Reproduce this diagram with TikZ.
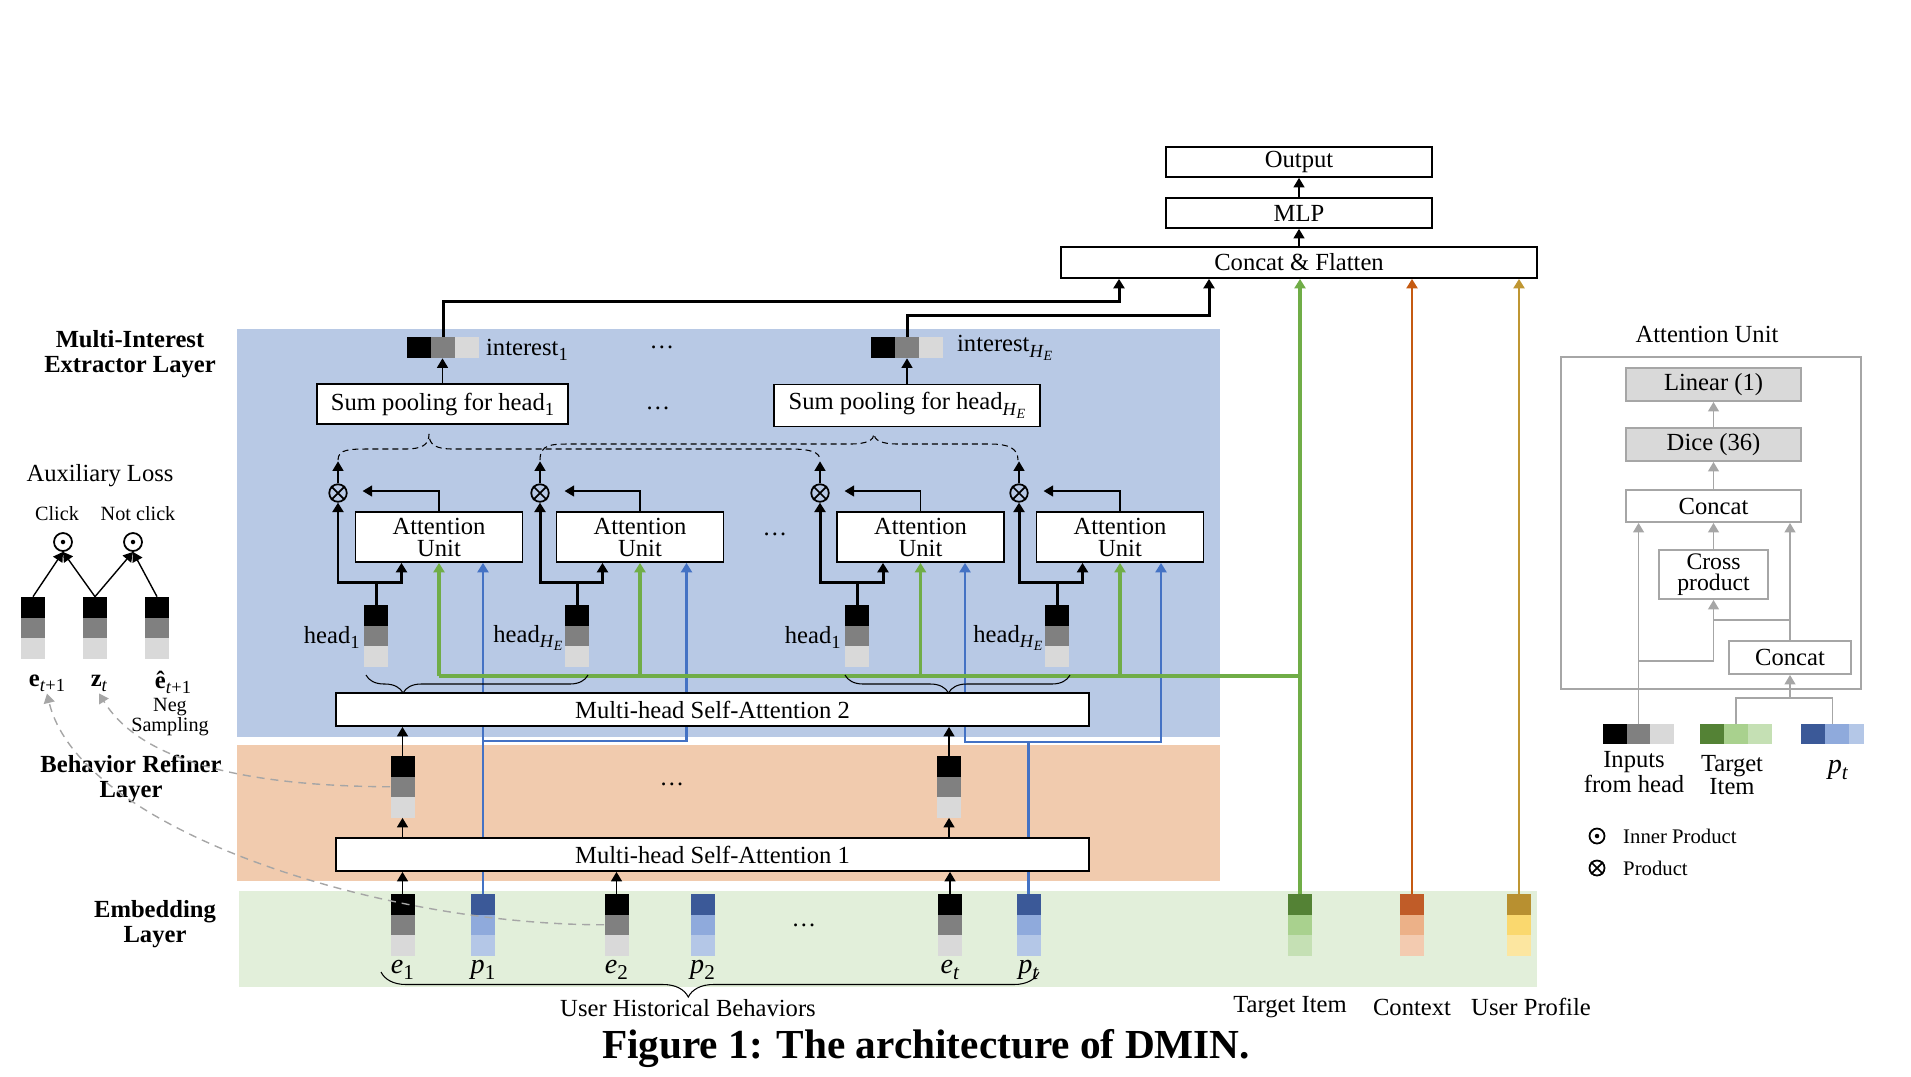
\documentclass[tikz,border=0pt]{standalone}
\usepackage{fontspec}
\setmainfont{Liberation Serif}
\usetikzlibrary{arrows.meta,decorations.pathreplacing,calc}

\definecolor{bluebg}{RGB}{184,201,229}
\definecolor{orangebg}{RGB}{241,203,174}
\definecolor{greenbg}{RGB}{226,239,218}
\definecolor{g2}{RGB}{128,128,128}
\definecolor{g3}{RGB}{217,217,217}
\definecolor{b1}{RGB}{59,89,152}
\definecolor{b2}{RGB}{143,170,220}
\definecolor{b3}{RGB}{180,199,231}
\definecolor{tg1}{RGB}{84,130,53}
\definecolor{tg2}{RGB}{169,209,142}
\definecolor{tg3}{RGB}{197,224,180}
\definecolor{cx1}{RGB}{192,92,40}
\definecolor{cx2}{RGB}{236,177,136}
\definecolor{cx3}{RGB}{243,203,176}
\definecolor{up1}{RGB}{184,144,48}
\definecolor{up2}{RGB}{250,216,110}
\definecolor{up3}{RGB}{252,230,160}
\definecolor{lgreen}{RGB}{112,173,71}
\definecolor{lblue}{RGB}{68,114,196}
\definecolor{lorange}{RGB}{197,90,17}
\definecolor{lgold}{RGB}{191,150,50}
\definecolor{pgray}{RGB}{166,166,166}
\definecolor{pfill}{RGB}{217,217,217}

\newcommand\fsz[2]{\fontsize{#1}{#2}\selectfont}
% subscripts set as text so that they scale with the label
\newcommand\sbs[1]{\raisebox{-0.45ex}{\fsz{10.5}{11}#1}}
\newcommand\bsbs[1]{\raisebox{-0.45ex}{\fsz{12}{12}#1}}
\newcommand\HE{\textit{H}\raisebox{-0.4ex}{\fsz{8}{8}\textit{E}}}

% vertical three-cell embedding: name, x centre, y top, colours
\newcommand\vvec[6]{%
  \fill[#4] (#2-12,#3) rectangle (#2+12,#3+20.5);
  \fill[#5] (#2-12,#3+20.5) rectangle (#2+12,#3+41);
  \fill[#6] (#2-12,#3+41) rectangle (#2+12,#3+61.5);
  \node[vecbox] (#1) at (#2,#3+30.75) {};}
% horizontal three-cell embedding: name, x left, y centre, cell width, height, colours
\newcommand\hvec[8]{%
  \fill[#6] (#2,#3-#5/2) rectangle (#2+#4,#3+#5/2);
  \fill[#7] (#2+#4,#3-#5/2) rectangle (#2+2*#4,#3+#5/2);
  \fill[#8] (#2+2*#4,#3-#5/2) rectangle (#2+3*#4,#3+#5/2);
  \node[inner sep=0pt, minimum width=3*#4*0.2mm, minimum height=#5*0.2mm] (#1) at (#2+1.5*#4,#3) {};}
% product operators
\newcommand\otimesnode[3]{%
  \node[opx, minimum size=#3] (#1) at (#2) {};
  \draw[line width=1pt] (#1.north east) -- (#1.south west) (#1.north west) -- (#1.south east);}
\newcommand\odotnode[3]{%
  \node[opx, minimum size=#3] (#1) at (#2) {};
  \fill (#1.center) circle (0.45mm);}

\begin{document}
\begin{tikzpicture}[x=0.2mm, y=-0.2mm,
  >={Triangle[width=2.2mm,length=1.9mm]},
  box/.style={draw, fill=white, line width=1pt, inner sep=0pt, align=center, font=\fsz{14}{12.5}},
  wh/.style 2 args={minimum width=#1*0.2mm, minimum height=#2*0.2mm},
  gbox/.style={box, draw=pgray, line width=1.1pt},
  vecbox/.style={inner sep=0pt, minimum width=4.8mm, minimum height=12.3mm},
  arr/.style={->, line width=0.8pt},
  thk/.style={->, line width=1.7pt},
  garr/.style={->, draw=pgray, line width=0.8pt},
  gline/.style={draw=pgray, line width=0.8pt},
  gl/.style={draw=lgreen, line width=1.8pt},
  bl/.style={draw=lblue, line width=1.5pt},
  ol/.style={draw=lorange, line width=1.5pt},
  ul/.style={draw=lgold, line width=1.5pt},
  lab/.style={font=\fsz{14}{16}, inner sep=1pt},
  mlab/.style={font=\fsz{16}{17}, inner sep=1pt},
  blab/.style={font=\bfseries\fsz{14}{14.2}, align=center},
  opx/.style={circle, draw, line width=1pt, inner sep=0pt},
  dbrace/.style={dashed, dash pattern=on 1.2mm off 0.8mm, line width=0.6pt},
  gdash/.style={->, draw=pgray, line width=0.8pt, dash pattern=on 1.6mm off 1.2mm},
  hbrace/.style={decorate, line width=0.6pt}]
\useasboundingbox (0,0) rectangle (1911,1076);

% layer backgrounds
\fill[bluebg] (237,329) rectangle (1220,737);
\fill[orangebg] (237,745) rectangle (1220,881);
\fill[greenbg] (239,891) rectangle (1537,987);

% embedding layer
\vvec{e1}{402.5}{894}{black}{g2}{g3}
\vvec{p1}{483}{894}{b1}{b2}{b3}
\vvec{e2}{616.5}{894}{black}{g2}{g3}
\vvec{p2}{702.5}{894}{b1}{b2}{b3}
\vvec{et}{950}{894}{black}{g2}{g3}
\vvec{pt}{1028.5}{894}{b1}{b2}{b3}
\vvec{ti}{1300}{894}{tg1}{tg2}{tg3}
\vvec{ctx}{1412}{894}{cx1}{cx2}{cx3}
\vvec{up}{1519}{894}{up1}{up2}{up3}
\node[mlab] at (402.5,970) {\textit{e}\bsbs{1}};
\node[mlab] at (483,970) {\textit{p}\bsbs{1}};
\node[mlab] at (616.5,970) {\textit{e}\bsbs{2}};
\node[mlab] at (702.5,970) {\textit{p}\bsbs{2}};
\node[mlab] at (950,970) {\textit{e}\bsbs{\textit{t}}};
\node[mlab] at (1028.5,970) {\textit{p}\bsbs{\textit{t}}};
\node[lab] at (804,925) {\dots};

% behaviour refiner layer
\vvec{r1}{402.5}{756}{black}{g2}{g3}
\vvec{r2}{949}{756}{black}{g2}{g3}
\node[lab] at (672,784) {\dots};

% heads
\vvec{h1}{376}{605}{black}{g2}{g3}
\vvec{h2}{577}{605}{black}{g2}{g3}
\vvec{h3}{857}{605}{black}{g2}{g3}
\vvec{h4}{1057}{605}{black}{g2}{g3}
\node[lab, anchor=east] at ($(h1.west)+(-2,2)$) {head\sbs{1}};
\node[lab, anchor=east] at ($(h2.west)+(0,2)$) {head\sbs{\HE}};
\node[lab, anchor=east] at ($(h3.west)+(-2,2)$) {head\sbs{1}};
\node[lab, anchor=east] at ($(h4.west)+(0,2)$) {head\sbs{\HE}};

% attention units and products
\foreach \n/\x in {au1/439, au2/640, au3/920.5, au4/1120}
  \node[box, wh={167}{50}] (\n) at (\x,537) {Attention\\Unit};
\otimesnode{m1}{338,493}{3.5mm}
\otimesnode{m2}{540,493}{3.5mm}
\otimesnode{m3}{820,493}{3.5mm}
\otimesnode{m4}{1019,493}{3.5mm}
\node[lab] at (775,534) {\dots};

% sum pooling and interests
\node[box, wh={251}{40}] (sp1) at (442.5,404) {Sum pooling for head\sbs{1}};
\node[box, wh={266}{42}] (sp2) at (907,405.5) {Sum pooling for head\sbs{\HE}};
\node[lab] at (658,408) {\dots};
\hvec{in1}{407}{347.5}{24}{21}{black}{g2}{g3}
\hvec{in2}{871}{347.5}{24}{21}{black}{g2}{g3}
\node[lab, anchor=west] at (484,350) {interest\sbs{1}};
\node[lab, anchor=west] at (955,348) {interest\sbs{\HE}};
\node[lab] at (662,347) {\dots};

% prediction tower
\node[box, wh={266}{30}] (out) at (1299,162) {Output};
\node[box, wh={266}{30}] (mlp) at (1299,213) {MLP};
\node[box, wh={476}{31}] (cf) at (1299,262.5) {Concat \& Flatten};
\draw[arr] (cf.north) -- (mlp.south);
\draw[arr] (mlp.north) -- (out.south);

% position embeddings feeding the attention units
\coordinate (bb1) at (0,741);
\coordinate (bb2) at (0,742);
\draw[bl, ->] (p1.north) -- (p1.north |- au1.south);
\draw[bl, ->] (p1.north |- bb1) -| ($(au2.south)+(46.5,0)$);
\draw[bl] (pt.north) -- (pt.north |- bb2);
\draw[bl, ->] (pt.north |- bb2) -| ($(au3.south)+(44.5,0)$);
\draw[bl, ->] (pt.north |- bb2) -| ($(au4.south)+(41,0)$);

% target item
\coordinate (gbus) at (0,676);
\draw[gl, ->] (ti.north) -- (ti.north |- cf.south);
\draw[gl] (au1.south |- gbus) -- (ti.north |- gbus);
\foreach \i in {1,...,4} \draw[gl, ->] (au\i.south |- gbus) -- (au\i.south);

% context and user profile
\draw[ol, ->] (ctx.north) -- (ctx.north |- cf.south);
\draw[ul, ->] (up.north) -- (up.north |- cf.south);

% self-attention blocks
\node[box, wh={753}{33}] (mh2) at (712.5,709.5) {Multi-head Self-Attention 2};
\node[box, wh={753}{33}] (mh1) at (712.5,854.5) {Multi-head Self-Attention 1};
\draw[arr] (e1.north) -- (e1.north |- mh1.south);
\draw[arr] (e2.north) -- (e2.north |- mh1.south);
\draw[arr] (et.north) -- (et.north |- mh1.south);
\draw[arr] (r1.south |- mh1.north) -- (r1.south);
\draw[arr] (r2.south |- mh1.north) -- (r2.south);
\draw[arr] (r1.north) -- (r1.north |- mh2.south);
\draw[arr] (r2.north) -- (r2.north |- mh2.south);
\draw[hbrace, decoration={brace, mirror, amplitude=3.6mm, aspect=0.167}] (366,675) -- (588,675);
\draw[hbrace, decoration={brace, mirror, amplitude=3.6mm, aspect=0.46}] (845,675) -- (1070,675);

% heads into products and attention units
\foreach \i in {1,...,4} {
  \coordinate (s\i) at ($(h\i.north)+(0,-22)$);
  \draw[line width=1.7pt] (h\i.north) -- (s\i);
  \draw[thk] (s\i) -| (m\i.south);
  \draw[thk] (s\i) -| ($(au\i.south)+(-37.5,0)$);
  \draw[arr] (au\i.north) |- ($(m\i.east)+(15,-2)$);
  \draw[arr] (m\i.north) -- ++(0,-22);
}

% grouping into sum pooling
\draw[dbrace] (338,460) .. controls (338,449) and (350,449) .. (370,449) -- (405,449)
  .. controls (422,449) and (429,445) .. (429,434)
  .. controls (429,445) and (436,449) .. (453,449) -- (790,449)
  .. controls (810,449) and (820,452) .. (820,460);
\draw[dbrace] (540,460) .. controls (540,444) and (552,444) .. (570,444) -- (850,444)
  .. controls (867,444) and (874,440) .. (874,434)
  .. controls (874,440) and (881,444) .. (898,444) -- (990,444)
  .. controls (1008,444) and (1018,448) .. (1018,460);

\draw[arr] (sp1.north) -- (sp1.north |- in1.south);
\draw[arr] (sp2.north) -- (sp2.north |- in2.south);
\draw[thk] (in1.north) -- ++(0,-35) -| ($(cf.south)+(-180,0)$);
\draw[thk] (in2.north) -- ++(0,-21) -| ($(cf.south)+(-90,0)$);

% user history brace and bottom labels
\draw[hbrace, decoration={brace, mirror, amplitude=5mm, aspect=0.467}] (381,972) -- (1039,972);
\node[lab] at (688,1008) {User Historical Behaviors};
\node[lab] at (1290,1007) {Target Item};
\node[lab] at (1412,1007) {Context};
\node[lab] at (1531,1007) {User Profile};

% layer names
\node[blab] at (130,354) {Multi-Interest\\Extractor Layer};
\node[blab] at (131,779) {Behavior Refiner\\Layer};
\node[blab] at (155,924) {Embedding\\Layer};

% auxiliary loss
\node[lab] at (100,476) {Auxiliary Loss};
\node[font=\fsz{11.5}{12}] at (57,514) {Click};
\node[font=\fsz{11.5}{12}] at (138,514) {Not click};
\odotnode{o1}{63,542}{3.6mm}
\odotnode{o2}{133,542}{3.6mm}
\vvec{ea}{33}{597}{black}{g2}{g3}
\vvec{za}{95}{597}{black}{g2}{g3}
\vvec{na}{157}{597}{black}{g2}{g3}
\draw[arr] (ea.north) -- (o1.south);
\draw[arr] (za.north) -- (o1.south);
\draw[arr] (za.north) -- (o2.south);
\draw[arr] (na.north) -- (o2.south);
\node[lab] (le) at (47,683) {\textbf{e}\sbs{\textit{t}+1}};
\node[lab] (lz) at (99,683) {\textbf{z}\sbs{\textit{t}}};
\node[lab] (ln) at (173,682) {\textbf{ê}\sbs{\textit{t}+1}};
\node[font=\fsz{11.5}{12}] at (170,707) {Neg};
\node[font=\fsz{11.5}{12}] at (170,727) {Sampling};
\draw[gdash] (r1.west) .. controls (240,786) and (140,760) .. (lz.south);
\draw[gdash] (e2.west) .. controls (380,925) and (80,830) .. (le.south);

% attention unit detail
\node[lab] at (1707,334) {Attention Unit};
\draw[draw=pgray, line width=1.1pt] (1561,357) rectangle (1861,689);
\node[gbox, fill=pfill, wh={175}{33}] (lin) at (1713.5,384.5) {Linear (1)};
\node[gbox, fill=pfill, wh={175}{33}] (dice) at (1713.5,444.5) {Dice (36)};
\node[gbox, wh={175}{32}] (cc) at (1713.5,506) {Concat};
\node[gbox, wh={109}{49}, font=\fsz{13.5}{12}] (cp) at (1713.5,574.5) {Cross\\product};
\node[gbox, wh={122}{33}] (cc2) at (1790,657.5) {Concat};
\draw[garr] (dice.north) -- (lin.south);
\draw[garr] (cc.north) -- (dice.south);
\draw[garr] (cp.north) -- (cc.south);
\hvec{ih}{1603}{734}{23.7}{20}{black}{g2}{g3}
\hvec{ti2}{1700}{734}{24}{20}{tg1}{tg2}{tg3}
\fill[b1] (1801,724) rectangle (1825,744);
\fill[b2] (1825,724) rectangle (1849,744);
\fill[b3] (1849,724) rectangle (1864,744);
\node[inner sep=0pt, minimum width=12.6mm, minimum height=4mm] (pt2) at (1832.5,734) {};
\coordinate (j1) at (0,661);
\coordinate (j2) at (0,620);
\coordinate (j3) at (0,698);
\draw[garr] (ih.north) -- (ih.north |- cc.south);
\draw[gline] (ih.north |- j1) -- (cp.south |- j1);
\draw[garr] (cp.south |- j1) -- (cp.south);
\draw[gline] (cc2.north |- j2) -- (cp.south |- j2);
\draw[garr] (cc2.north) -- (cc2.north |- cc.south);
\draw[gline] (ti2.north) -- (ti2.north |- j3) -- (pt2.north |- j3) -- (pt2.north);
\draw[garr] (cc2.south |- j3) -- (cc2.south);
\node[lab, align=center, font=\fsz{14}{12.5}] at (1634,772) {Inputs\\from head};
\node[lab, align=center, font=\fsz{14}{13}] at (1732,775) {Target\\Item};
\node[mlab] at (1838,770) {\textit{p}\bsbs{\textit{t}}};
\odotnode{lg1}{1597,836}{3mm}
\node[anchor=west, font=\fsz{11.8}{12}] at (1617,836) {Inner Product};
\otimesnode{lg2}{1597,868}{3mm}
\node[anchor=west, font=\fsz{11.8}{12}] at (1617,868) {Product};

% caption
\node[font=\bfseries\fsz{23.5}{24}] at (926,1048) {Figure 1: The architecture of DMIN.};
\end{tikzpicture}
\end{document}
